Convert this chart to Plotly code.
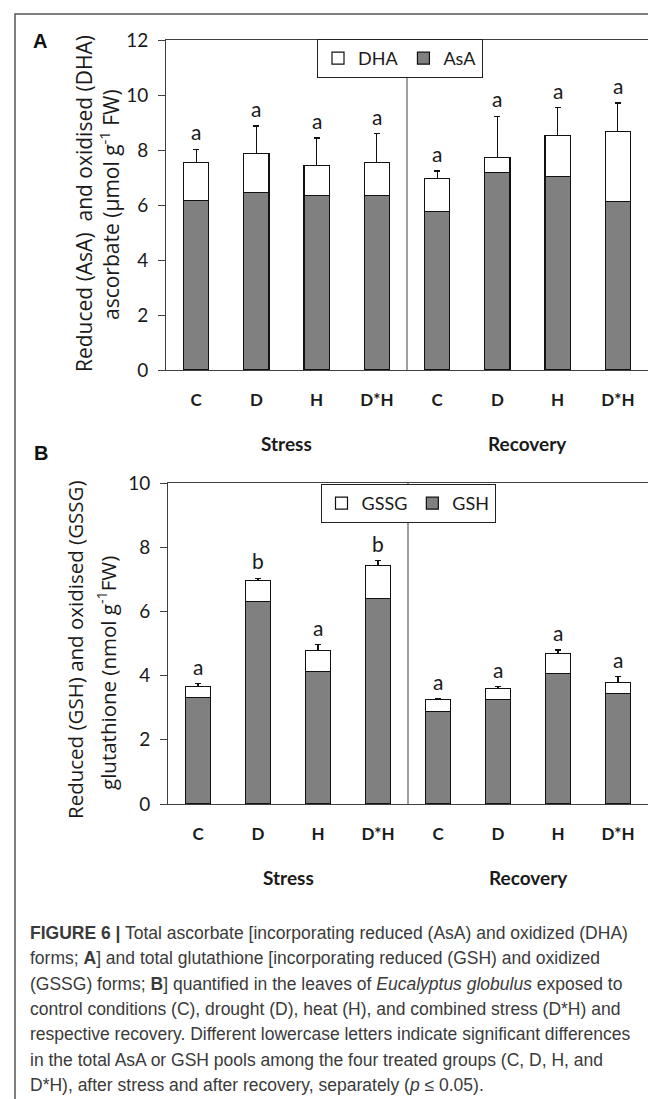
import plotly.graph_objects as go

W, H = 656, 1099

# ---------------- data ----------------
categories = ["C", "D", "H", "D*H", "C", "D", "H", "D*H"]
groups = ["Stress", "Recovery"]

# Panel A: ascorbate (µmol g-1 FW)
asa = [6.17, 6.46, 6.36, 6.36, 5.75, 7.18, 7.05, 6.14]
dha = [1.39, 1.40, 1.09, 1.19, 1.21, 0.54, 1.48, 2.54]
sd_a = [0.47, 1.01, 0.99, 1.04, 0.28, 1.50, 1.01, 1.03]
letters_a = ["a", "a", "a", "a", "a", "a", "a", "a"]

# Panel B: glutathione (nmol g-1 FW)
gsh = [3.33, 6.30, 4.13, 6.39, 2.88, 3.26, 4.06, 3.45]
gssg = [0.34, 0.66, 0.66, 1.04, 0.37, 0.34, 0.63, 0.34]
sd_b = [0.08, 0.07, 0.17, 0.15, 0.03, 0.05, 0.11, 0.17]
letters_b = ["a", "b", "a", "b", "a", "a", "a", "a"]

caption_lines = [
    "<b>FIGURE 6 |</b> Total ascorbate [incorporating reduced (AsA) and oxidized (DHA)",
    "forms; <b>A</b>] and total glutathione [incorporating reduced (GSH) and oxidized",
    "(GSSG) forms; <b>B</b>] quantified in the leaves of <i>Eucalyptus globulus</i> exposed to",
    "control conditions (C), drought (D), heat (H), and combined stress (D*H) and",
    "respective recovery. Different lowercase letters indicate significant differences",
    "in the total AsA or GSH pools among the four treated groups (C, D, H, and",
    "D*H), after stress and after recovery, separately (<i>p</i> ≤ 0.05).",
]

# ---------------- helpers ----------------
def px(x):
    return x / W

def py(y):
    return 1 - y / H

FONT = "Lato"
TFONT = "Open Sans"
DARK = "#1a1a1a"
AXC = "#404040"
GRAY = "#808080"
xpos = list(range(len(categories)))

fig = go.Figure()

def add_panel(bottom, top, sd, letters, names, xa, ya, legend):
    fig.add_trace(go.Bar(
        x=xpos, y=bottom, name=names[1], xaxis=xa, yaxis=ya, legend=legend,
        width=0.42, legendrank=2,
        marker=dict(color=GRAY, line=dict(color="#111111", width=1.2)),
        hoverinfo="skip"))
    fig.add_trace(go.Bar(
        x=xpos, y=top, name=names[0], xaxis=xa, yaxis=ya, legend=legend,
        width=0.42, legendrank=1,
        marker=dict(color="white", line=dict(color="#111111", width=1.2)),
        error_y=dict(type="data", symmetric=False, array=sd,
                     arrayminus=[0] * len(sd), color="#111111",
                     thickness=1.2, width=3),
        hoverinfo="skip"))
    for i, (b, t, s, l) in enumerate(zip(bottom, top, sd, letters)):
        fig.add_annotation(x=i, y=b + t + s, xref=xa, yref=ya, text=l,
                           showarrow=False, yanchor="bottom", yshift=3,
                           font=dict(family=FONT, size=21, color=DARK))

add_panel(asa, dha, sd_a, letters_a, ["DHA", "AsA"], "x", "y", "legend")
add_panel(gsh, gssg, sd_b, letters_b, ["GSSG", "GSH"], "x2", "y2", "legend2")

ticktext = ["<b>%s</b>" % c for c in categories]

xcommon = dict(range=[-0.5, 7.5], tickvals=xpos, ticktext=ticktext,
               showline=True, mirror=True, linecolor=AXC, linewidth=1,
               ticks="", showgrid=False, zeroline=False, automargin=False,
               ticklabelstandoff=15,
               tickfont=dict(family=FONT, size=17, color=DARK))
ycommon = dict(showline=True, mirror=True, linecolor=AXC, linewidth=1,
               ticks="outside", ticklen=7, tickcolor=AXC, tickwidth=1,
               showgrid=False, zeroline=False, automargin=False,
               ticklabelstandoff=6,
               tickfont=dict(family=FONT, size=19, color=DARK))

legfont = dict(family=FONT, size=18, color=DARK)
fig.update_layout(
    width=W, height=H, margin=dict(l=0, r=0, t=0, b=0),
    paper_bgcolor="white", plot_bgcolor="white",
    barmode="stack", template="none", showlegend=True,
    xaxis=dict(domain=[px(158), px(640)], anchor="y", **xcommon),
    yaxis=dict(domain=[py(362), py(32)], anchor="x", range=[0, 12], dtick=2, **ycommon),
    xaxis2=dict(domain=[px(160), px(640)], anchor="y2", **xcommon),
    yaxis2=dict(domain=[py(796), py(475)], anchor="x2", range=[0, 10], dtick=2, **ycommon),
    legend=dict(orientation="h", x=px(392), xanchor="center", y=py(31), yanchor="top",
                bgcolor="white", bordercolor="#222222", borderwidth=1,
                font=legfont, itemwidth=30, traceorder="normal"),
    legend2=dict(orientation="h", x=px(400), xanchor="center", y=py(476), yanchor="top",
                 bgcolor="white", bordercolor="#222222", borderwidth=1,
                 font=legfont, itemwidth=30, traceorder="normal"),
)

# outer frame (only top and left edges fall inside the picture)
fig.add_shape(type="rect", xref="paper", yref="paper",
              x0=px(7), x1=1.1, y0=-0.1, y1=py(6),
              line=dict(color="#555555", width=1.5), layer="below")

# group dividers
fig.add_shape(type="line", xref="x", yref="y domain", x0=3.5, x1=3.5, y0=0, y1=1,
              line=dict(color=AXC, width=1))
fig.add_shape(type="line", xref="x2", yref="y2 domain", x0=3.5, x1=3.5, y0=0, y1=1,
              line=dict(color=AXC, width=1))

# group labels
for xa, ycen in (("x", 435), ("x2", 869)):
    for gx, g in zip((1.5, 5.5), groups):
        fig.add_annotation(x=gx, xref=xa, y=py(ycen), yref="paper", text="<b>%s</b>" % g,
                           showarrow=False, yanchor="middle",
                           font=dict(family=FONT, size=19, color=DARK))

# panel letters
for lab, (lx, ly) in (("A", (32, 33)), ("B", (33, 445))):
    fig.add_annotation(x=px(lx), y=py(ly), xref="paper", yref="paper", text="<b>%s</b>" % lab,
                       showarrow=False, xanchor="center", yanchor="middle",
                       font=dict(family="Liberation Sans", size=20, color="#111111"))

# y-axis titles (two lines each)
ytitles = [
    ("Reduced (AsA)&nbsp; and oxidised (DHA)", 76, 196, 21),
    ("ascorbate (µmol g<sup>-1</sup> FW)", 101, 197, 21),
    ("Reduced (GSH) and oxidised (GSSG)", 67, 642, 20.5),
    ("glutathione (nmol g<sup>-1</sup>FW)", 99, 665, 20.5),
]
for t, tx, ty, fs in ytitles:
    fig.add_annotation(x=px(tx), y=py(ty), xref="paper", yref="paper", text=t,
                       textangle=-90, showarrow=False, xanchor="center", yanchor="middle",
                       font=dict(family=TFONT, size=fs, color=DARK))

# caption
for i, line in enumerate(caption_lines):
    fig.add_annotation(x=px(20), y=py(925 + 25.3 * i), xref="paper", yref="paper",
                       text=line, showarrow=False, xanchor="left", yanchor="middle",
                       align="left",
                       font=dict(family="Liberation Sans", size=17.5, color="#3a3a3a"))

fig.write_html("out.html")
